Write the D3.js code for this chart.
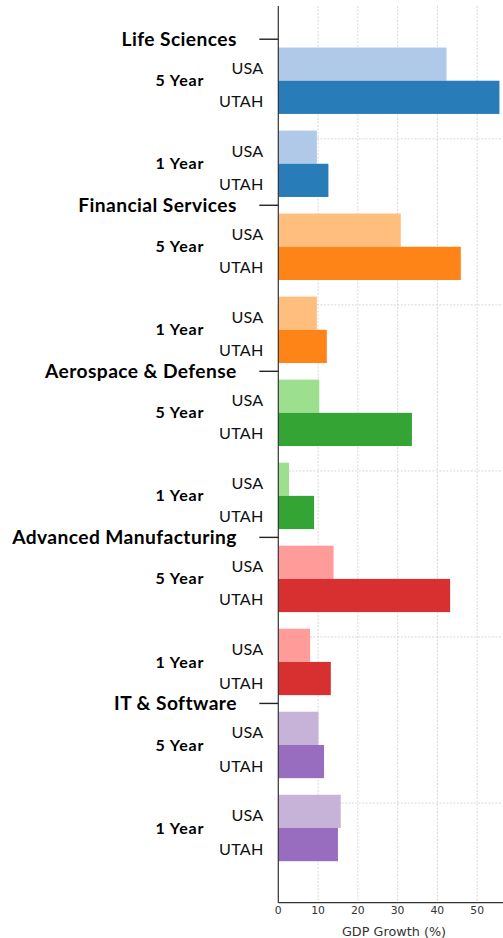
<!DOCTYPE html>
<html>
<head>
<meta charset="utf-8">
<script src="https://cdn.jsdelivr.net/npm/d3@7"></script>
<style>
  html, body { margin: 0; padding: 0; background: #fff; }
  svg { display: block; }
</style>
</head>
<body>
<svg id="chart" width="503" height="938"></svg>
<script>
// Industry GDP growth, Utah vs. USA, over 5-year and 1-year windows
const categories = ["Life Sciences", "Financial Services", "Aerospace & Defense", "Advanced Manufacturing", "IT & Software"];
const usa5 = [42.3, 30.8, 10.3, 13.9, 10.1];
const utah5 = [55.6, 45.9, 33.6, 43.2, 11.5];
const usa1 = [9.7, 9.7, 2.7, 8.0, 15.7];
const utah1 = [12.6, 12.2, 9.0, 13.2, 15.0];
const periods = ["5 Year", "1 Year"];
const regions = ["USA", "UTAH"];
const xTicks = [0, 10, 20, 30, 40, 50];
const usaColors = ["#aec7e8", "#ffbb78", "#98df8a", "#ff9896", "#c5b0d5"];
const utahColors = ["#1f77b4", "#ff7f0e", "#2ca02c", "#d62728", "#9467bd"];
const xTitle = "GDP Growth (%)";

// Each category occupies 5 row units: 5-year pair, gap, 1-year pair
const rows = [];
categories.forEach((c, i) => {
  const base = i * 5;
  rows.push({cat: i, period: 0, region: 0, pos: base + 0.25, value: usa5[i], color: usaColors[i]});
  rows.push({cat: i, period: 0, region: 1, pos: base + 1.25, value: utah5[i], color: utahColors[i]});
  rows.push({cat: i, period: 1, region: 0, pos: base + 2.75, value: usa1[i], color: usaColors[i]});
  rows.push({cat: i, period: 1, region: 1, pos: base + 3.75, value: utah1[i], color: utahColors[i]});
});

const svg = d3.select("#chart");
const plotLeft = 278.3, plotRight = 503, plotTop = 6, plotBottom = 902.7;

const x = d3.scaleLinear().domain([0, 56.5]).range([plotLeft, plotRight]);
const y = d3.scaleLinear().domain([-1, 26]).range([plotTop, plotBottom]);

// grid
const grid = svg.append("g");
grid.selectAll("line.v").data(xTicks.filter(d => d > 0)).join("line")
  .attr("class", "v")
  .attr("x1", d => x(d)).attr("x2", d => x(d))
  .attr("y1", plotTop).attr("y2", plotBottom)
  .attr("stroke", "#d4d4d4").attr("stroke-width", 0.9).attr("stroke-dasharray", "2,1.5");
grid.selectAll("line.h").data(categories.map((c, i) => i * 5 + 3)).join("line")
  .attr("class", "h")
  .attr("x1", plotLeft).attr("x2", plotRight)
  .attr("y1", d => y(d)).attr("y2", d => y(d))
  .attr("stroke", "#d4d4d4").attr("stroke-width", 0.9).attr("stroke-dasharray", "2,1.5");

// bars
svg.append("g").selectAll("rect").data(rows).join("rect")
  .attr("x", x(0))
  .attr("y", d => y(d.pos))
  .attr("width", d => x(d.value) - x(0))
  .attr("height", d => y(d.pos + 1) - y(d.pos))
  .attr("fill", d => d.color)
  .attr("fill-opacity", 0.96);

// spines
svg.append("line").attr("x1", plotLeft).attr("x2", plotLeft).attr("y1", plotTop).attr("y2", plotBottom)
  .attr("stroke", "#333").attr("stroke-width", 1.2);
svg.append("line").attr("x1", plotLeft).attr("x2", plotRight).attr("y1", plotBottom).attr("y2", plotBottom)
  .attr("stroke", "#333").attr("stroke-width", 1.2);

// x tick labels
svg.append("g").selectAll("text").data(xTicks).join("text")
  .attr("x", d => x(d)).attr("y", 914)
  .attr("text-anchor", "middle")
  .attr("font-family", "DejaVu Sans").attr("font-size", 10.8).attr("fill", "#333")
  .text(d => d);
svg.append("text")
  .attr("x", 394).attr("y", 935.5)
  .attr("text-anchor", "middle")
  .attr("font-family", "DejaVu Sans").attr("font-size", 12.8).attr("fill", "#333")
  .text(xTitle);

// category labels with tick marks
const catG = svg.append("g");
catG.selectAll("line").data(categories).join("line")
  .attr("x1", 259.3).attr("x2", plotLeft)
  .attr("y1", (d, i) => y(i * 5)).attr("y2", (d, i) => y(i * 5))
  .attr("stroke", "#222").attr("stroke-width", 1.4);
catG.selectAll("text").data(categories).join("text")
  .attr("x", 236.8).attr("y", (d, i) => y(i * 5) + 6.5)
  .attr("text-anchor", "end")
  .attr("font-family", "Lato").attr("font-weight", 700).attr("font-size", 19.2)
  .attr("letter-spacing", 0.42).attr("fill", "#000")
  .text(d => d);

// period labels, centred between the USA and UTAH bars
const periodRows = [];
categories.forEach((c, i) => periods.forEach((p, j) => periodRows.push({label: p, pos: i * 5 + (j === 0 ? 1.25 : 3.75)})));
svg.append("g").selectAll("text").data(periodRows).join("text")
  .attr("x", 204.5).attr("y", d => y(d.pos) + 5.6)
  .attr("text-anchor", "end")
  .attr("font-family", "Lato").attr("font-weight", 700).attr("font-size", 16)
  .attr("letter-spacing", 0.9).attr("fill", "#000")
  .text(d => d.label);

// region labels
svg.append("g").selectAll("text").data(rows).join("text")
  .attr("x", 263.5).attr("y", d => y(d.pos + 0.5) + 10)
  .attr("text-anchor", "end")
  .attr("font-family", "Lato").attr("font-size", 16.2).attr("letter-spacing", 0.2).attr("fill", "#111")
  .text(d => regions[d.region]);
</script>
</body>
</html>
